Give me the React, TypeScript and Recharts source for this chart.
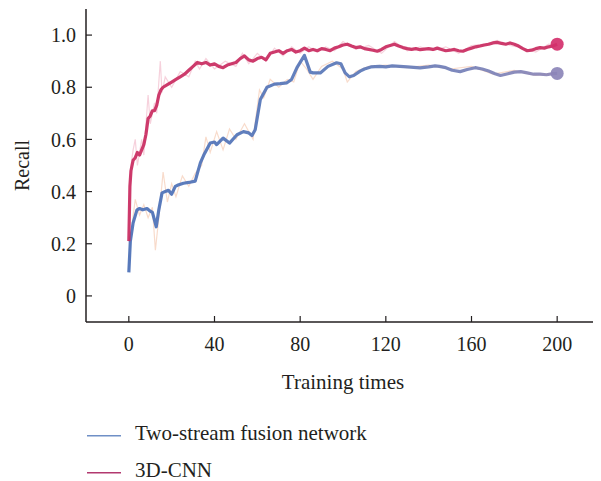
import React from "react";
import { LineChart, Line, XAxis, YAxis, Legend } from "recharts";

// Training times (x) and recall values (y)
const cnnX = [0, 0.5, 1, 2, 3, 4, 5, 6, 7, 8, 9, 10, 11, 12, 13, 14, 15, 16, 18, 20, 22, 24, 26, 28, 30, 32, 34, 36, 38, 40, 42, 44, 46, 48, 50, 52, 54, 56, 58, 60, 62, 64, 66, 68, 70, 72, 74, 76, 78, 80, 82, 84, 86, 88, 90, 92, 94, 96, 98, 100, 102, 104, 106, 108, 110, 112, 114, 116, 118, 120, 122, 124, 126, 128, 130, 132, 134, 136, 138, 140, 142, 144, 146, 148, 150, 152, 154, 156, 158, 160, 162, 164, 166, 168, 170, 172, 174, 176, 178, 180, 182, 184, 186, 188, 190, 192, 194, 196, 198, 200];
const cnnY = [0.21, 0.42, 0.48, 0.52, 0.53, 0.55, 0.54, 0.56, 0.58, 0.62, 0.68, 0.69, 0.71, 0.71, 0.73, 0.77, 0.79, 0.8, 0.81, 0.82, 0.83, 0.84, 0.85, 0.865, 0.88, 0.895, 0.89, 0.895, 0.885, 0.89, 0.88, 0.875, 0.885, 0.89, 0.895, 0.91, 0.92, 0.905, 0.9, 0.91, 0.915, 0.905, 0.93, 0.935, 0.94, 0.93, 0.94, 0.945, 0.935, 0.94, 0.95, 0.94, 0.945, 0.94, 0.948, 0.945, 0.94, 0.95, 0.955, 0.962, 0.965, 0.958, 0.952, 0.955, 0.948, 0.945, 0.942, 0.938, 0.945, 0.955, 0.96, 0.965, 0.958, 0.952, 0.948, 0.945, 0.948, 0.944, 0.946, 0.948, 0.945, 0.95, 0.945, 0.94, 0.942, 0.945, 0.94, 0.938, 0.945, 0.95, 0.955, 0.958, 0.962, 0.965, 0.97, 0.972, 0.968, 0.965, 0.97, 0.965, 0.958, 0.948, 0.94, 0.942, 0.948, 0.952, 0.95, 0.955, 0.958, 0.965];

const twoX = [0, 0.7, 2, 3.8, 5, 6.5, 8.5, 10, 11, 12, 12.8, 14, 15.5, 17, 18.5, 20, 21.7, 23, 25.5, 28, 31, 32, 33.4, 35, 38, 40, 41, 44, 47, 50.5, 53.5, 56, 57.5, 59, 61.4, 64.5, 68, 70.7, 73.8, 76, 78.5, 82, 84.7, 86, 89.4, 93, 97, 99, 101, 103, 105, 108, 110, 113, 117, 120, 123, 126.5, 130, 133, 136, 140, 143, 145, 148, 151, 154.7, 158, 161.7, 165, 168, 171, 173.5, 177, 180, 183, 186, 189, 192, 195, 198, 200];
const twoY = [0.09, 0.21, 0.28, 0.33, 0.335, 0.33, 0.335, 0.325, 0.32, 0.29, 0.265, 0.33, 0.395, 0.4, 0.405, 0.39, 0.42, 0.425, 0.432, 0.435, 0.44, 0.47, 0.51, 0.54, 0.586, 0.59, 0.58, 0.605, 0.586, 0.618, 0.63, 0.625, 0.615, 0.637, 0.753, 0.8, 0.812, 0.814, 0.817, 0.83, 0.875, 0.922, 0.858, 0.855, 0.855, 0.88, 0.894, 0.89, 0.855, 0.84, 0.845, 0.862, 0.87, 0.878, 0.88, 0.878, 0.882, 0.88, 0.878, 0.876, 0.874, 0.878, 0.882, 0.88, 0.875, 0.865, 0.86, 0.868, 0.875, 0.87, 0.862, 0.852, 0.845, 0.852, 0.858, 0.86, 0.855, 0.85, 0.85, 0.848, 0.852, 0.853];

// faint raw (unsmoothed) traces behind the lines
const cnnRawX = [0, 1, 2, 3, 4, 6, 7, 8, 9, 10, 12, 13, 14, 14.7, 15.5, 17, 20, 24, 28, 31, 33, 36, 40, 45, 50, 53, 56, 60, 64, 68, 72, 76, 80, 84, 88, 92, 96, 100, 106, 112, 118, 124, 130, 136, 142, 148, 154, 160, 166, 172, 178, 184, 190, 196, 200];
const cnnRawY = [0.24, 0.5, 0.56, 0.6, 0.5, 0.6, 0.54, 0.66, 0.77, 0.66, 0.74, 0.7, 0.82, 0.9, 0.78, 0.84, 0.8, 0.86, 0.84, 0.9, 0.87, 0.91, 0.87, 0.9, 0.88, 0.93, 0.89, 0.93, 0.9, 0.95, 0.92, 0.955, 0.93, 0.955, 0.935, 0.955, 0.94, 0.975, 0.945, 0.96, 0.93, 0.975, 0.94, 0.955, 0.94, 0.955, 0.93, 0.96, 0.965, 0.98, 0.96, 0.95, 0.935, 0.965, 0.96];
const twoRawX = [0, 1, 3, 5, 7, 9, 11, 12.4, 14, 16, 18, 20, 22, 25, 28, 31, 34, 36, 38, 41, 44, 47, 50, 54, 58, 61, 63, 66, 70, 74, 77, 80, 83, 86, 90, 95, 100, 102, 106, 112, 120, 130, 140, 150, 160, 170, 180, 190, 200];
const twoRawY = [0.1, 0.24, 0.37, 0.31, 0.35, 0.3, 0.34, 0.175, 0.3, 0.475, 0.36, 0.43, 0.38, 0.46, 0.42, 0.47, 0.5, 0.61, 0.55, 0.63, 0.56, 0.64, 0.6, 0.66, 0.6, 0.79, 0.76, 0.83, 0.8, 0.83, 0.82, 0.9, 0.87, 0.83, 0.88, 0.9, 0.87, 0.82, 0.86, 0.88, 0.885, 0.875, 0.885, 0.87, 0.88, 0.85, 0.865, 0.845, 0.855];

const xTicks = [0, 40, 80, 120, 160, 200];
const yTicks = [0, 0.2, 0.4, 0.6, 0.8, 1.0];
const seriesNames = ["Two-stream fusion network", "3D-CNN"];

const toData = (xs: number[], ys: number[]) => xs.map((x, i) => ({ x, y: ys[i] }));
const cnnData = toData(cnnX, cnnY);
const twoData = toData(twoX, twoY);
const cnnRaw = toData(cnnRawX, cnnRawY);
const twoRaw = toData(twoRawX, twoRawY);

const FONT = "'Liberation Serif', 'DejaVu Serif', serif";
const INK = "#231f20";
const RED = "#c92a60";

const endDot = (len: number, fill: string) => (props: any) => {
  const { cx, cy, index } = props;
  if (index !== len - 1) return <g key={`d${index}`} />;
  return <circle key={`d${index}`} cx={cx} cy={cy} r={6.5} fill={fill} fillOpacity={0.92} />;
};

const LegendBox = () => (
  <div style={{ position: "relative", width: 593, height: 78, fontFamily: FONT, fontSize: 21, color: INK }}>
    {[
      { name: seriesNames[0], color: "#6f8fc6", top: 20 },
      { name: seriesNames[1], color: "#b2396f", top: 56.5 },
    ].map((r) => (
      <div key={r.name} style={{ position: "absolute", left: 79, top: r.top, height: 20, display: "flex", alignItems: "center", whiteSpace: "nowrap" }}>
        <svg width={34} height={20} style={{ display: "block" }}>
          <line x1={0} x2={34} y1={12.7} y2={12.7} stroke={r.color} strokeWidth={1.6} />
        </svg>
        <span style={{ marginLeft: 14, lineHeight: "20px" }}>{r.name}</span>
      </div>
    ))}
  </div>
);

export default function App() {
  return (
    <LineChart width={593} height={473} margin={{ top: 1, right: 1, left: 0, bottom: 0 }}>
      <defs>
        <linearGradient id="blueGrad" x1="0" y1="0" x2="1" y2="0">
          <stop offset="0%" stopColor="#4a6fb7" />
          <stop offset="55%" stopColor="#5b78b8" />
          <stop offset="100%" stopColor="#8c86b6" />
        </linearGradient>
      </defs>
      <XAxis
        type="number"
        dataKey="x"
        domain={[-20, 220]}
        ticks={xTicks}
        allowDataOverflow
        height={81}
        tickSize={-6}
        tickMargin={21}
        tick={{ fontFamily: FONT, fontSize: 20, fill: INK }}
        axisLine={{ stroke: INK, strokeWidth: 1.5 }}
        tickLine={{ stroke: INK, strokeWidth: 1.2 }}
        label={(p: any) => {
          const vb = p.viewBox;
          return (
            <text x={vb.x + vb.width / 2} y={vb.y + 67} textAnchor="middle" fontFamily={FONT} fontSize={21} fill={INK}>
              Training times
            </text>
          );
        }}
      />
      <YAxis
        type="number"
        domain={[-0.1, 1.1]}
        ticks={yTicks}
        allowDataOverflow
        width={78}
        tickSize={-6}
        tickMargin={16}
        tickFormatter={(v: number) => (v === 0 ? "0" : v.toFixed(1))}
        tick={{ fontFamily: FONT, fontSize: 20, fill: INK }}
        axisLine={{ stroke: INK, strokeWidth: 1.5 }}
        tickLine={{ stroke: INK, strokeWidth: 1.2 }}
        label={(p: any) => {
          const vb = p.viewBox;
          const cx = vb.x + 14;
          const cy = vb.y + vb.height / 2;
          return (
            <text x={cx} y={cy} transform={`rotate(-90 ${cx} ${cy})`} textAnchor="middle" dominantBaseline="central" fontFamily={FONT} fontSize={20} fill={INK}>
              Recall
            </text>
          );
        }}
      />
      <Legend verticalAlign="bottom" layout="horizontal" wrapperStyle={{ top: 395, left: 0, width: 593 }} content={() => <LegendBox />} />
      <Line data={twoRaw} dataKey="y" type="linear" stroke="#f3c3a8" strokeWidth={1.2} strokeOpacity={0.6} dot={false} activeDot={false} legendType="none" isAnimationActive={false} />
      <Line data={cnnRaw} dataKey="y" type="linear" stroke="#f0b3c4" strokeWidth={1.2} strokeOpacity={0.6} dot={false} activeDot={false} legendType="none" isAnimationActive={false} />
      <Line data={twoData} dataKey="y" name={seriesNames[0]} type="linear" stroke="url(#blueGrad)" strokeWidth={3.2} strokeOpacity={0.92} strokeLinejoin="round" dot={endDot(twoData.length, "#8c86b8")} activeDot={false} isAnimationActive={false} />
      <Line data={cnnData} dataKey="y" name={seriesNames[1]} type="linear" stroke={RED} strokeWidth={3.2} strokeOpacity={0.92} strokeLinejoin="round" dot={endDot(cnnData.length, "#d4306c")} activeDot={false} isAnimationActive={false} />
    </LineChart>
  );
}
